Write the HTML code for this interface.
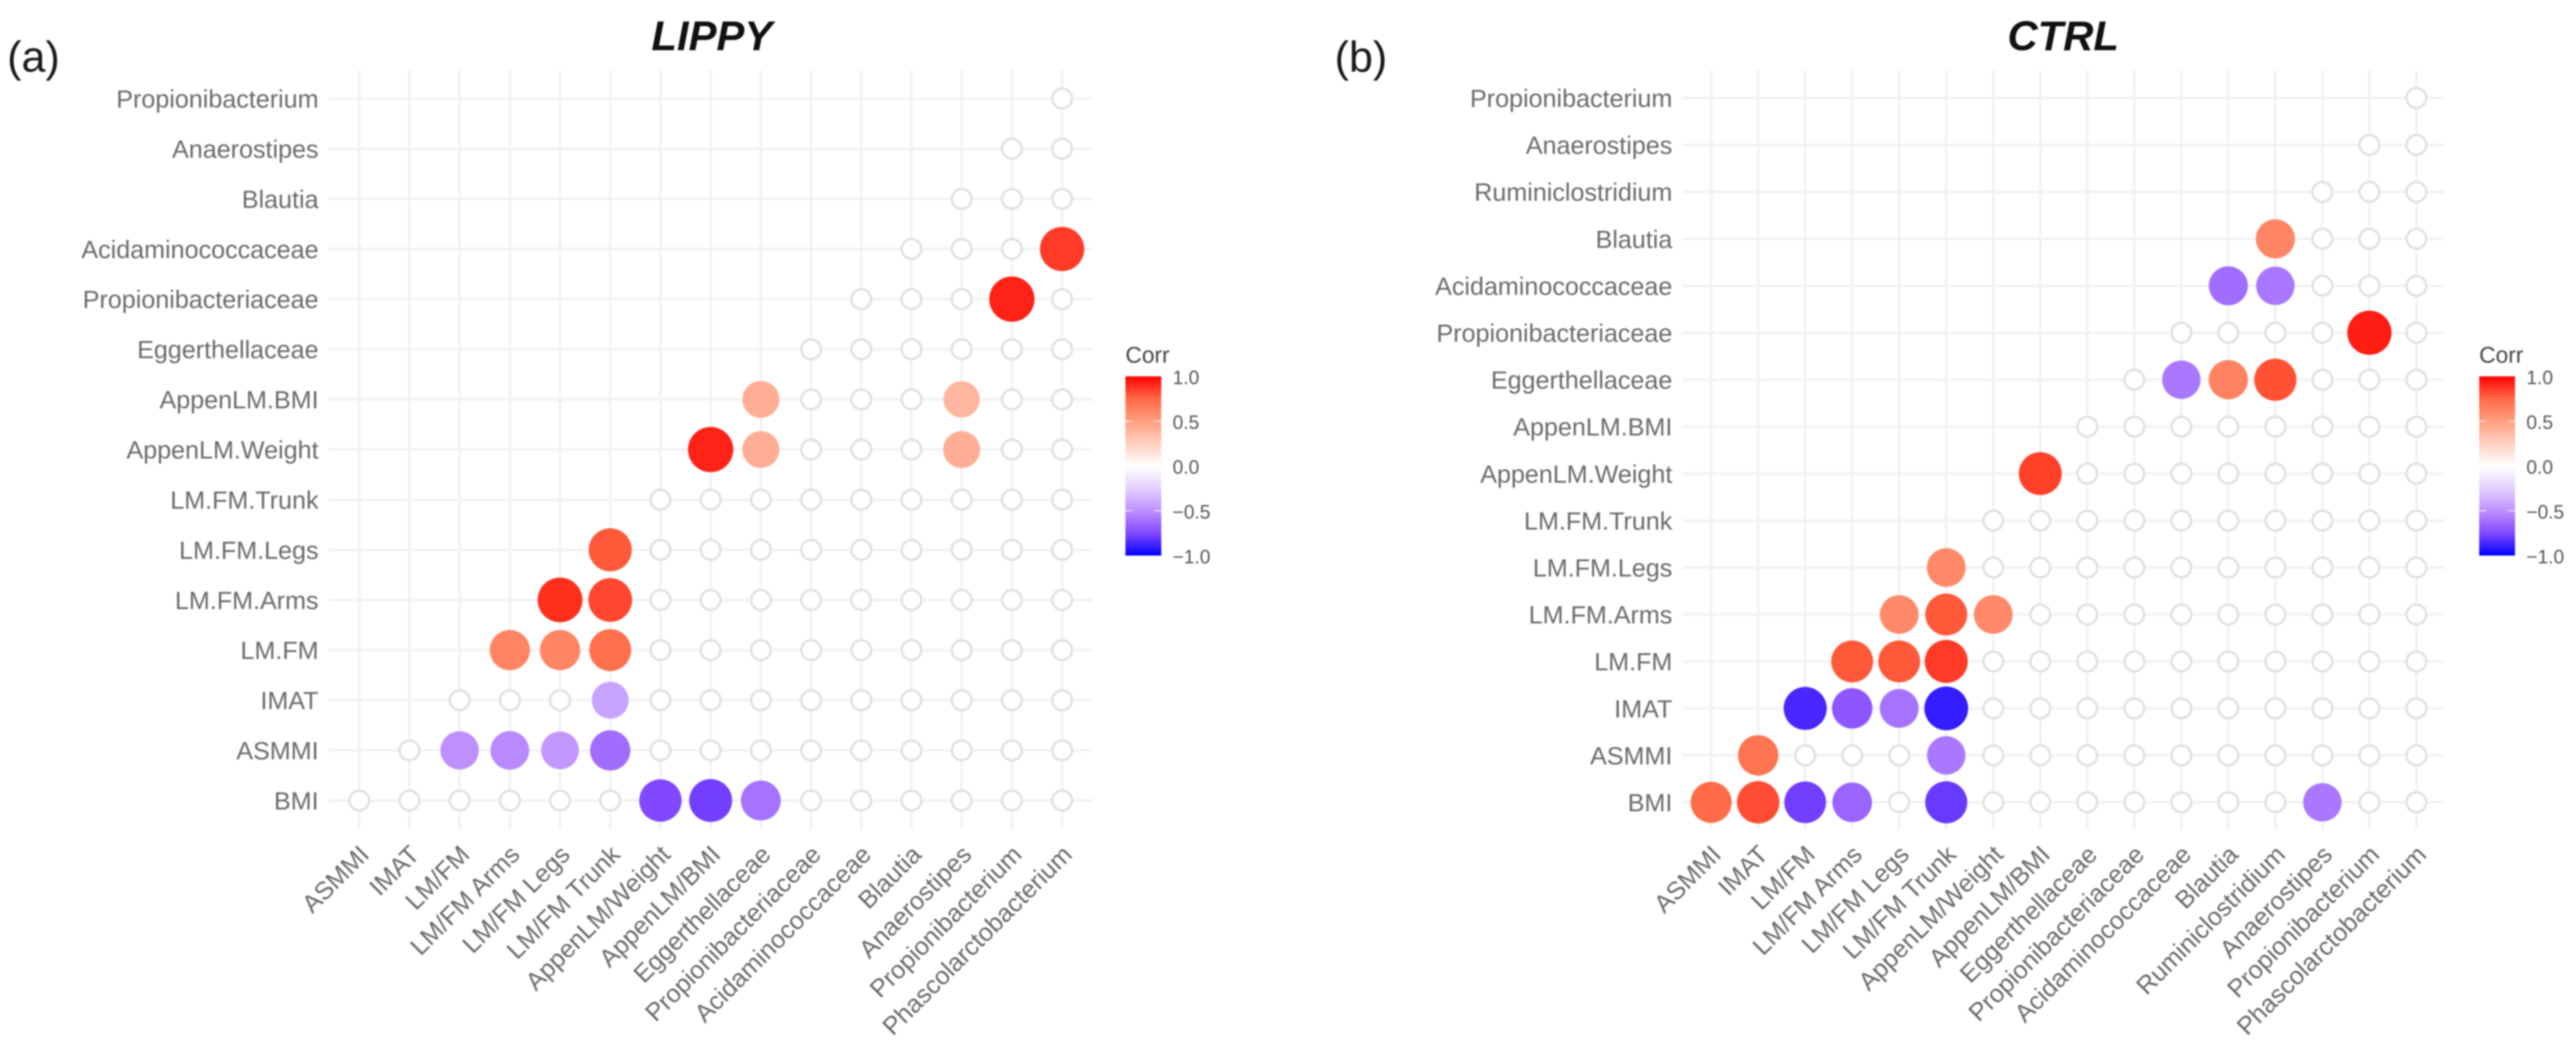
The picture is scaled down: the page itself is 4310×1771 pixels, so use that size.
<!DOCTYPE html>
<html lang="en">
<head>
<meta charset="utf-8">
<title>Correlation matrices: LIPPY and CTRL</title>
<style>
html,body{margin:0;padding:0;background:#fff;width:4310px;height:1771px;overflow:hidden}
svg{display:block;font-family:"Liberation Sans",sans-serif}
#chart-root{filter:blur(1.4px)}
</style>
</head>
<body>
<svg id="chart-root" xmlns="http://www.w3.org/2000/svg" width="4310" height="1771" viewBox="0 0 4310 1771">
  <rect x="0" y="0" width="4310" height="1771" fill="#ffffff"/>
  <text x="12" y="120" font-size="72" fill="#1a1a1a">(a)</text>
  <text x="2233" y="120" font-size="72" fill="#1a1a1a">(b)</text>
  <text x="1191" y="84" font-size="70" font-weight="bold" font-style="italic" text-anchor="middle" fill="#111111">LIPPY</text>
  <text x="3452" y="84" font-size="70" font-weight="bold" font-style="italic" text-anchor="middle" fill="#111111">CTRL</text>
  <defs>
    <linearGradient id="corr-gradient" x1="0" y1="0" x2="0" y2="1"></linearGradient>
  </defs>
</svg>
<script>
const _ = null;

const lippyRows = ["Propionibacterium","Anaerostipes","Blautia","Acidaminococcaceae","Propionibacteriaceae","Eggerthellaceae","AppenLM.BMI","AppenLM.Weight","LM.FM.Trunk","LM.FM.Legs","LM.FM.Arms","LM.FM","IMAT","ASMMI","BMI"];
const lippyCols = ["ASMMI","IMAT","LM/FM","LM/FM Arms","LM/FM Legs","LM/FM Trunk","AppenLM/Weight","AppenLM/BMI","Eggerthellaceae","Propionibacteriaceae","Acidaminococcaceae","Blautia","Anaerostipes","Propionibacterium","Phascolarctobacterium"];
// Each row lists its values up to the last column; a row starts where the triangle starts. null = not significant.
const lippyCorr = [
  [_],
  [_,_],
  [_,_,_],
  [_,_,_,.86],
  [_,_,_,.92,_],
  [_,_,_,_,_,_],
  [.42,_,_,_,.38,_,_],
  [.92,.42,_,_,_,.42,_,_],
  [_,_,_,_,_,_,_,_,_],
  [.79,_,_,_,_,_,_,_,_,_],
  [.89,.83,_,_,_,_,_,_,_,_,_],
  [.62,.62,.72,_,_,_,_,_,_,_,_,_],
  [_,_,_,-.42,_,_,_,_,_,_,_,_,_],
  [_,-.5,-.52,-.47,-.62,_,_,_,_,_,_,_,_,_],
  [_,_,_,_,_,_,-.75,-.78,-.6,_,_,_,_,_,_]
];

const ctrlRows = ["Propionibacterium","Anaerostipes","Ruminiclostridium","Blautia","Acidaminococcaceae","Propionibacteriaceae","Eggerthellaceae","AppenLM.BMI","AppenLM.Weight","LM.FM.Trunk","LM.FM.Legs","LM.FM.Arms","LM.FM","IMAT","ASMMI","BMI"];
const ctrlCols = ["ASMMI","IMAT","LM/FM","LM/FM Arms","LM/FM Legs","LM/FM Trunk","AppenLM/Weight","AppenLM/BMI","Eggerthellaceae","Propionibacteriaceae","Acidaminococcaceae","Blautia","Ruminiclostridium","Anaerostipes","Propionibacterium","Phascolarctobacterium"];
const ctrlCorr = [
  [_],
  [_,_],
  [_,_,_],
  [.62,_,_,_],
  [-.62,-.58,_,_,_],
  [_,_,_,_,.93,_],
  [_,-.58,.63,.81,_,_,_],
  [_,_,_,_,_,_,_,_],
  [.85,_,_,_,_,_,_,_,_],
  [_,_,_,_,_,_,_,_,_,_],
  [.6,_,_,_,_,_,_,_,_,_,_],
  [.6,.79,.6,_,_,_,_,_,_,_,_,_],
  [.79,.79,.86,_,_,_,_,_,_,_,_,_,_],
  [-.86,-.7,-.6,-.9,_,_,_,_,_,_,_,_,_,_],
  [.7,_,_,_,-.58,_,_,_,_,_,_,_,_,_,_],
  [.74,.82,-.78,-.65,_,-.8,_,_,_,_,_,_,_,-.58,_,_]
];

const legendTicks = [1, 0.5, 0, -0.5, -1];
const legendTickLabels = ["1.0", "0.5", "0.0", "\u22120.5", "\u22121.0"];

const rampValues = [-1, -.75, -.5, -.25, 0, .25, .5, .75, 1];
const rampColors = [[0,0,255],[130,72,255],[189,143,255],[228,208,255],[255,255,255],[255,208,192],[255,158,129],[255,106,69],[255,0,0]];

const NS = "http://www.w3.org/2000/svg";
const root = document.getElementById("chart-root");

function shape(parent, tag, attrs, text) {
  const el = document.createElementNS(NS, tag);
  for (const k in attrs) el.setAttribute(k, attrs[k]);
  if (text !== undefined) el.textContent = text;
  parent.appendChild(el);
  return el;
}

function colorScale(v) {
  const c = Math.max(-1, Math.min(1, v));
  for (let i = 0; i < rampValues.length - 1; i++) {
    if (c <= rampValues[i + 1]) {
      const t = (c - rampValues[i]) / (rampValues[i + 1] - rampValues[i]);
      const a = rampColors[i], b = rampColors[i + 1];
      return "rgb(" + a.map((x, j) => Math.round(x + (b[j] - x) * t)).join(",") + ")";
    }
  }
  return "rgb(255,0,0)";
}

function radiusScale(v) {
  return 25 + 14 * Math.abs(v);
}

function slug(s) {
  return s.toLowerCase().replace(/[^a-z0-9]+/g, "-").replace(/^-|-$/g, "");
}

function drawPanel(prefix, rows, cols, corr, p) {
  const n = cols.length;
  const xScale = i => p.x0 + i * (p.x1 - p.x0) / (n - 1);
  const yScale = i => p.y0 + i * (p.y1 - p.y0) / (rows.length - 1);

  const group = shape(root, "g", {});
  
  

  cols.forEach((name, i) => {
    const line = shape(group, "line", {x1: xScale(i), x2: xScale(i), y1: p.gridTop, y2: p.gridBottom, stroke: "#f1f1f1", "stroke-width": 4});
    
    
  });
  rows.forEach((name, i) => {
    const line = shape(group, "line", {x1: p.gridLeft, x2: p.gridRight, y1: yScale(i), y2: yScale(i), stroke: "#f1f1f1", "stroke-width": 4});
    
    
  });

  rows.forEach((name, i) => {
    const label = shape(group, "text", {x: p.labelRight, y: yScale(i) + 15, "font-size": 42, "text-anchor": "end", fill: "#6a6a6a"}, name);
    
    
  });
  cols.forEach((name, i) => {
    const ax = xScale(i) + 19, ay = 1433;
    const label = shape(group, "text", {x: ax, y: ay, "font-size": 42, "text-anchor": "end", fill: "#6a6a6a", transform: "rotate(-45 " + ax + " " + ay + ")"}, name);
    
    
  });

  corr.forEach((row, r) => {
    const start = n - row.length;
    row.forEach((v, k) => {
      const col = start + k;
      if (v === null) {
        const blank = shape(group, "circle", {cx: xScale(col), cy: yScale(r), r: 16.5, fill: "#ffffff", stroke: "#e0e0e0", "stroke-width": 4});
        
        
      } else {
        const dot = shape(group, "circle", {cx: xScale(col), cy: yScale(r), r: radiusScale(v) - p.shrink, fill: colorScale(v)});
        
        
      }
    });
  });

  drawLegend(group, prefix, p.legendX);
}

function drawLegend(parent, prefix, x) {
  const top = 630, height = 300, width = 60;
  const yScale = v => top + (1 - v) / 2 * height;
  const title = shape(parent, "text", {x: x, y: 607, "font-size": 38, fill: "#444444"}, "Corr");
  
  
  const bar = shape(parent, "rect", {x: x, y: top, width: width, height: height, fill: "url(#corr-gradient)"});
  
  
  legendTicks.forEach((v, i) => {
    const y = yScale(v);
    if (v > -1 && v < 1) {
      const left = shape(parent, "line", {x1: x, x2: x + 12, y1: y, y2: y, stroke: "#ffffff", "stroke-width": 2, "stroke-opacity": .7});
      
      
      const right = shape(parent, "line", {x1: x + width - 12, x2: x + width, y1: y, y2: y, stroke: "#ffffff", "stroke-width": 2, "stroke-opacity": .7});
      
      
    }
    const label = shape(parent, "text", {x: x + 79, y: y + 13, "font-size": 32, fill: "#555555"}, legendTickLabels[i]);
    
    
  });
}

const grad = document.getElementById("corr-gradient");
rampValues.slice().reverse().forEach(v => {
  shape(grad, "stop", {offset: (1 - v) / 2, "stop-color": colorScale(v)});
});

drawPanel("lippy", lippyRows, lippyCols, lippyCorr, {
  x0: 601, x1: 1777, y0: 165, y1: 1340,
  gridLeft: 550, gridRight: 1828, gridTop: 118, gridBottom: 1388,
  labelRight: 533, legendX: 1883, shrink: 0
});
drawPanel("ctrl", ctrlRows, ctrlCols, ctrlCorr, {
  x0: 2863, x1: 4043, y0: 164, y1: 1343,
  gridLeft: 2815, gridRight: 4090, gridTop: 118, gridBottom: 1388,
  labelRight: 2798, legendX: 4148, shrink: 1
});
</script>
</body>
</html>
